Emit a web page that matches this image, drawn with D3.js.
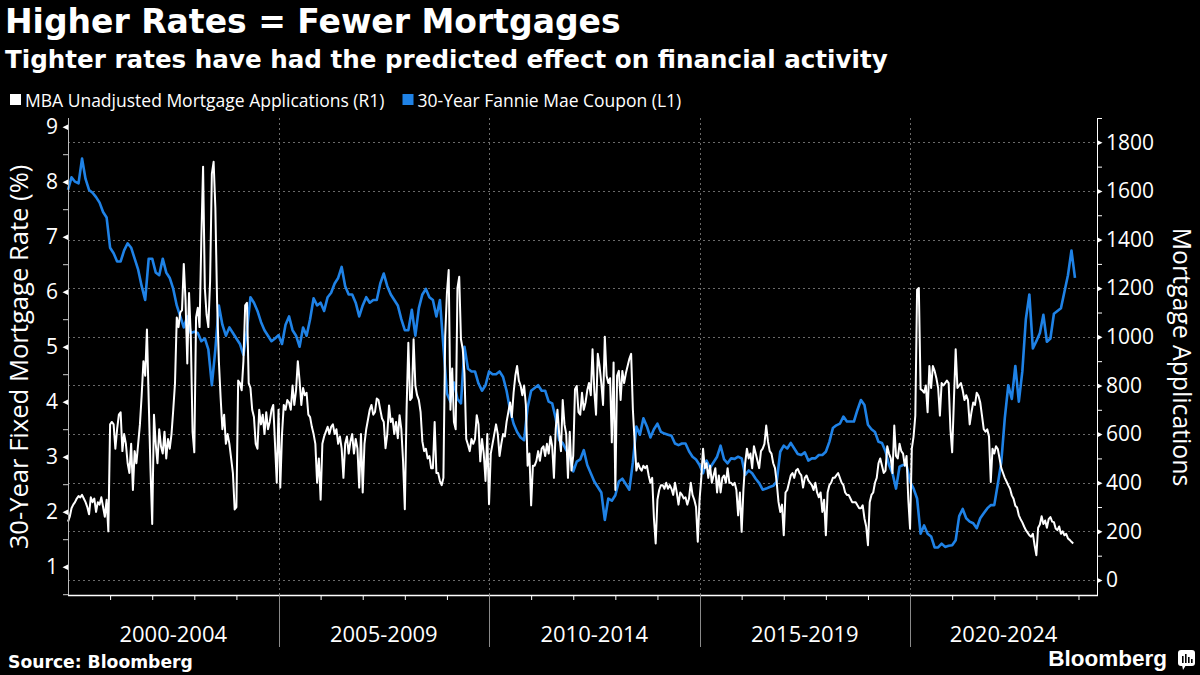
<!DOCTYPE html>
<html><head><meta charset="utf-8">
<script src="https://cdn.jsdelivr.net/npm/d3@7"></script>
<style>
html,body{margin:0;padding:0;background:#000;}
svg{display:block;}
</style></head><body>
<svg id="chart" width="1200" height="675"></svg>
<script>
// ---------------- DATA ----------------
const years = [2000,2001,2002,2003,2004,2005,2006,2007,2008,2009,2010,2011,2012,2013,2014,2015,2016,2017,2018,2019,2020,2021,2022,2023];

// MBA Unadjusted Mortgage Applications (right axis), ~2 readings per month
const apps2000 = [240,260,295,310,320,335,345,340,350,335,320,300,270,340,320,335,280,320,310,340,300,260,330,200];
const apps2001 = [640,650,640,540,620,680,690,530,600,560,480,440,560,370,530,480,560,640,760,900,840,1030,740,460];
const apps2002 = [230,680,560,480,620,550,520,610,500,580,540,600,700,810,1080,1040,1100,1110,1300,1150,890,1180,1000,610];
const apps2003 = [525,1080,1120,1040,1400,1700,1200,1090,1040,1230,1670,1720,1530,1140,900,750,620,680,560,600,560,500,440,290];
const apps2004 = [300,820,810,780,900,1130,1140,810,790,700,670,560,540,700,640,680,600,690,620,650,700,720,560,400];
const apps2005 = [700,380,600,720,700,740,730,700,800,720,780,900,820,720,790,760,770,680,670,630,600,560,400,500];
const apps2006 = [330,560,590,610,630,600,630,640,600,620,560,590,540,420,560,590,520,570,600,520,580,540,380,600];
const apps2007 = [360,560,620,660,700,720,680,691,746,740,700,664,650,542,600,718,650,664,600,650,583,678,620,488];
const apps2008 = [291,700,976,740,750,990,800,760,740,690,570,530,540,500,510,460,460,650,440,440,407,390,420,1000];
const apps2009 = [1180,1275,700,870,650,620,1200,1247,990,950,850,580,556,530,580,560,580,678,640,488,580,520,407,600];
const apps2010 = [312,520,560,600,640,600,510,560,600,590,650,690,730,670,770,840,880,820,800,760,800,720,470,520];
const apps2011 = [307,470,470,490,530,490,540,550,510,560,520,590,550,420,620,700,600,530,740,640,600,420,610,450];
const apps2012 = [510,785,798,690,680,770,700,730,780,810,760,949,780,680,930,880,810,720,1000,840,810,830,566,894];
const apps2013 = [370,840,860,740,860,810,850,880,910,930,700,570,450,480,460,450,470,460,470,430,400,420,253,150];
const apps2014 = [330,370,390,390,375,400,375,390,375,350,400,360,310,360,350,335,340,310,335,400,350,330,300,157];
const apps2015 = [330,420,540,460,480,420,470,400,430,460,360,430,360,420,430,400,460,400,400,390,400,370,266,360];
const apps2016 = [198,370,480,540,500,520,460,550,520,490,460,530,540,560,635,570,530,520,480,460,400,321,280,310];
const apps2017 = [184,360,370,400,430,440,420,450,457,440,430,380,420,430,410,400,390,370,400,360,340,360,280,330];
const apps2018 = [184,360,390,400,420,420,430,440,420,400,390,360,350,350,335,320,320,320,307,295,295,307,253,220];
const apps2019 = [143,320,350,360,400,420,480,500,470,440,450,550,520,500,440,635,510,500,560,530,520,470,510,330];
const apps2020 = [211,540,590,676,1194,1201,785,780,770,800,690,880,790,880,860,830,790,676,810,800,810,820,810,620];
const apps2021 = [525,740,949,790,800,810,780,740,760,740,640,690,730,720,770,758,730,676,620,610,620,590,403,540];
const apps2022 = [520,550,539,500,460,440,420,405,389,375,348,334,305,298,266,250,237,220,205,195,184,178,190,143];
const apps2023 = [102,215,228,262,230,245,215,250,259,240,238,212,205,220,190,200,184,190,171,165,157,150];

// 30-Year Fannie Mae Coupon (left axis), monthly readings
const rate2000 = [7.85,8.08,8.0,7.97,8.42,8.05,7.85,7.8,7.72,7.62,7.45,7.35];
const rate2001 = [6.8,6.7,6.55,6.55,6.75,6.88,6.8,6.6,6.4,6.1,5.85,6.6];
const rate2002 = [6.6,6.35,6.3,6.6,6.35,6.25,6.05,5.75,5.55,5.35,5.55,5.25];
const rate2003 = [5.27,5.25,5.1,5.15,4.95,4.3,4.95,5.75,5.4,5.2,5.35,5.25];
const rate2004 = [5.15,5.05,4.85,5.3,5.9,5.8,5.65,5.45,5.3,5.2,5.1,5.15];
const rate2005 = [5.21,5.05,5.4,5.55,5.3,5.2,5.0,5.35,5.2,5.5,5.88,5.75];
const rate2006 = [5.8,5.65,5.9,5.98,6.15,6.25,6.45,6.1,5.95,5.95,5.8,5.55];
const rate2007 = [5.75,5.9,5.8,5.85,5.85,6.15,6.33,6.1,5.95,5.85,5.75,5.5];
const rate2008 = [5.3,5.3,5.67,5.2,5.7,5.95,6.05,5.9,5.85,5.55,5.85,5.0];
const rate2009 = [4.15,4.0,4.35,4.05,3.97,5.0,4.6,4.55,4.55,4.33,4.2,4.3];
const rate2010 = [4.55,4.5,4.5,4.55,4.45,4.2,3.85,3.6,3.45,3.35,3.3,3.9];
const rate2011 = [4.2,4.25,4.3,4.2,4.2,4.0,3.97,3.7,3.3,3.25,3.12,3.03];
const rate2012 = [2.73,2.91,2.95,3.12,2.85,2.7,2.55,2.45,2.35,1.85,2.24,2.2];
const rate2013 = [2.3,2.55,2.6,2.5,2.4,2.9,3.55,3.4,3.7,3.55,3.35,3.5];
const rate2014 = [3.6,3.45,3.42,3.4,3.38,3.24,3.21,3.24,3.24,3.1,3.0,2.95];
const rate2015 = [2.85,2.7,2.93,2.8,2.9,3.0,3.2,2.95,2.88,2.97,2.96,3.0];
const rate2016 = [2.97,2.67,2.75,2.7,2.6,2.52,2.4,2.42,2.45,2.47,2.55,3.09];
const rate2017 = [3.2,3.15,3.25,3.15,3.05,3.03,3.08,2.93,2.97,2.97,3.03,3.03];
const rate2018 = [3.09,3.27,3.52,3.57,3.6,3.73,3.64,3.64,3.64,3.85,4.03,3.94];
const rate2019 = [3.58,3.5,3.45,3.27,3.25,3.1,2.85,2.7,2.42,2.82,2.85,2.85];
const rate2020 = [2.55,2.42,2.24,1.6,1.75,1.6,1.55,1.35,1.35,1.42,1.36,1.38];
const rate2021 = [1.39,1.48,1.92,2.05,1.88,1.82,1.79,1.7,1.88,1.97,2.06,2.12];
const rate2022 = [2.12,2.5,2.9,3.7,4.3,4.05,4.65,4.0,4.55,5.5,5.95,4.97];
const rate2023 = [5.1,5.25,5.58,5.09,5.15,5.6,5.65,5.7,6.0,6.3,6.75,6.25];

const leftTicks = [1,2,3,4,5,6,7,8,9];
const leftMinor = [0.5,1.5,2.5,3.5,4.5,5.5,6.5,7.5,8.5];
const rightTicks = [0,200,400,600,800,1000,1200,1400,1600,1800];
const rightMinor = [100,300,500,700,900,1100,1300,1500,1700,1900];
const periodStarts = [2000,2005,2010,2015,2020];
const periodLabels = ["2000-2004","2005-2009","2010-2014","2015-2019","2020-2024"];

const appsByYear = [apps2000,apps2001,apps2002,apps2003,apps2004,apps2005,apps2006,apps2007,apps2008,apps2009,apps2010,apps2011,apps2012,apps2013,apps2014,apps2015,apps2016,apps2017,apps2018,apps2019,apps2020,apps2021,apps2022,apps2023];
const rateByYear = [rate2000,rate2001,rate2002,rate2003,rate2004,rate2005,rate2006,rate2007,rate2008,rate2009,rate2010,rate2011,rate2012,rate2013,rate2014,rate2015,rate2016,rate2017,rate2018,rate2019,rate2020,rate2021,rate2022,rate2023];

const appsSeries = appsByYear.flatMap((arr,k)=>arr.map((v,i)=>({t: years[k] + i/24, v})));
const rateSeries = rateByYear.flatMap((arr,k)=>arr.map((v,i)=>({t: years[k] + i/12, v})));

// ---------------- LAYOUT ----------------
const W = 1200, H = 675;
const plot = {left: 68, right: 1097, top: 118, bottom: 595};
const BLUE = "#1f82e6";
const TXT = "#ffffff";
const FONT = "'Open Sans', 'Noto Sans', sans-serif";
const BOLD = "'DejaVu Sans', sans-serif";

const svg = d3.select("#chart");
svg.append("rect").attr("width",W).attr("height",H).attr("fill","#000");

const x = d3.scaleLinear().domain([2000, 2024.44]).range([plot.left, plot.right]);
const yL = d3.scaleLinear().domain([0.4855, 9.158]).range([plot.bottom, plot.top]);
const yR = d3.scaleLinear().domain([-61.7, 1900]).range([plot.bottom, plot.top]);

// Title
svg.append("text").attr("x",5).attr("y",33).attr("fill",TXT)
  .attr("font-family",BOLD).attr("font-weight","bold").attr("font-size",33)
  .text("Higher Rates = Fewer Mortgages");
svg.append("text").attr("x",5).attr("y",67.5).attr("fill",TXT)
  .attr("font-family",BOLD).attr("font-weight","bold").attr("font-size",24.6)
  .text("Tighter rates have had the predicted effect on financial activity");

// Legend
const leg = svg.append("g").attr("font-family",FONT).attr("font-size",17.5).attr("fill",TXT);
leg.append("rect").attr("x",10).attr("y",94).attr("width",11).attr("height",11).attr("fill","#fff");
const t1 = leg.append("text").attr("x",25).attr("y",106.5).text("MBA Unadjusted Mortgage Applications (R1)");
const l1 = t1.node().getComputedTextLength();
const x2 = 25 + l1 + 18;
leg.append("rect").attr("x",x2).attr("y",94).attr("width",11).attr("height",11).attr("fill",BLUE);
leg.append("text").attr("x",x2+15).attr("y",106.5).text("30-Year Fannie Mae Coupon (L1)");

// Grid
const grid = svg.append("g").attr("stroke","#6a6a6a").attr("stroke-width",1).attr("stroke-dasharray","2,3");
grid.selectAll("line.h").data(rightTicks).join("line").attr("class","h")
  .attr("x1",plot.left).attr("x2",plot.right)
  .attr("y1",d=>Math.round(yR(d))+0.5).attr("y2",d=>Math.round(yR(d))+0.5);
grid.selectAll("line.v").data(periodStarts.slice(1)).join("line").attr("class","v")
  .attr("x1",d=>Math.round(x(d))+0.5).attr("x2",d=>Math.round(x(d))+0.5)
  .attr("y1",plot.top).attr("y2",plot.bottom);

// Lines
const lineApps = d3.line().x(d=>x(d.t)).y(d=>yR(d.v));
const lineRate = d3.line().x(d=>x(d.t)).y(d=>yL(d.v));
svg.append("path").datum(rateSeries).attr("d",lineRate).attr("fill","none")
  .attr("stroke",BLUE).attr("stroke-width",2.6).attr("stroke-linejoin","round");
svg.append("path").datum(appsSeries).attr("d",lineApps).attr("fill","none")
  .attr("stroke","#fff").attr("stroke-width",2).attr("stroke-linejoin","round");

// Left axis
const gL = svg.append("g").attr("transform",`translate(${plot.left},0)`);
gL.call(d3.axisLeft(yL).tickValues(leftTicks).tickSize(0).tickPadding(10).tickFormat(d3.format("d")));
gL.select(".domain").remove();
gL.selectAll(".tick text").attr("fill",TXT).attr("font-family",FONT).attr("font-size",21);
gL.selectAll(".tick").append("path").attr("d","M0,-2.8L-5.5,0L0,2.8Z").attr("fill","#fff");
const gLm = svg.append("g").attr("transform",`translate(${plot.left},0)`);
gLm.call(d3.axisLeft(yL).tickValues(leftMinor).tickSize(5).tickFormat(""));
gLm.select(".domain").remove();
gLm.selectAll(".tick line").attr("stroke","#ccc");
svg.append("line").attr("x1",plot.left+0.5).attr("x2",plot.left+0.5)
  .attr("y1",plot.top).attr("y2",plot.bottom).attr("stroke","#bbb").attr("stroke-width",1);

// Right axis
const gR = svg.append("g").attr("transform",`translate(${plot.right},0)`);
gR.call(d3.axisRight(yR).tickValues(rightTicks).tickSize(0).tickPadding(9).tickFormat(d3.format("d")));
gR.select(".domain").remove();
gR.selectAll(".tick text").attr("fill",TXT).attr("font-family",FONT).attr("font-size",21);
gR.selectAll(".tick").append("path").attr("d","M0,-2.8L5.5,0L0,2.8Z").attr("fill","#fff");
const gRm = svg.append("g").attr("transform",`translate(${plot.right},0)`);
gRm.call(d3.axisRight(yR).tickValues(rightMinor).tickSize(5).tickFormat(""));
gRm.select(".domain").remove();
gRm.selectAll(".tick line").attr("stroke","#fff");
svg.append("line").attr("x1",plot.right+0.5).attr("x2",plot.right+0.5)
  .attr("y1",plot.top).attr("y2",plot.bottom).attr("stroke","#fff").attr("stroke-width",1);

// Bottom axis
const yearTicks = d3.range(2001, 2025).filter(y=>y%5!==0);
const gB = svg.append("g").attr("transform",`translate(0,${plot.bottom})`);
gB.call(d3.axisBottom(x).tickValues(yearTicks).tickSize(5).tickFormat(""));
gB.select(".domain").remove();
gB.selectAll(".tick line").attr("stroke","#fff");
svg.append("line").attr("x1",plot.left).attr("x2",plot.right+1)
  .attr("y1",plot.bottom+0.5).attr("y2",plot.bottom+0.5).attr("stroke","#fff").attr("stroke-width",1.5);
svg.selectAll("line.sep").data(periodStarts.slice(1)).join("line").attr("class","sep")
  .attr("x1",d=>Math.round(x(d))+0.5).attr("x2",d=>Math.round(x(d))+0.5)
  .attr("y1",plot.bottom).attr("y2",647).attr("stroke","#8a8a8a").attr("stroke-width",1);
svg.selectAll("text.period").data(periodStarts).join("text").attr("class","period")
  .attr("x",(d,i)=>(x(d)+Math.min(x(d+5),plot.right))/2).attr("y",641.5)
  .attr("text-anchor","middle").attr("fill",TXT).attr("font-family",FONT).attr("font-size",22)
  .text((d,i)=>periodLabels[i]);

// Axis titles
svg.append("text").attr("transform",`translate(28,357) rotate(-90)`)
  .attr("text-anchor","middle").attr("fill",TXT).attr("font-family",FONT).attr("font-size",25.6)
  .text("30-Year Fixed Mortgage Rate (%)");
svg.append("text").attr("transform",`translate(1172.5,357) rotate(90)`)
  .attr("text-anchor","middle").attr("fill",TXT).attr("font-family",FONT).attr("font-size",24.8)
  .text("Mortgage Applications");

// Footer
svg.append("text").attr("x",8).attr("y",667.5).attr("fill",TXT)
  .attr("font-family",BOLD).attr("font-weight","bold").attr("font-size",17.2)
  .text("Source: Bloomberg");
svg.append("text").attr("x",1167).attr("y",666).attr("text-anchor","end").attr("fill",TXT)
  .attr("font-family","'Liberation Sans', Arial, sans-serif").attr("font-weight","bold").attr("font-size",22.5)
  .text("Bloomberg");
const icon = svg.append("g").attr("transform","translate(1178,650)");
icon.append("rect").attr("width",17).attr("height",16).attr("rx",3).attr("fill","#fff");
icon.append("path").attr("d","M4,15 L8,15 L5,20 Z").attr("fill","#fff");
icon.selectAll("rect.bar").data([[4,6],[7,4],[10,7],[13,9]]).join("rect").attr("class","bar")
  .attr("x",d=>d[0]).attr("y",d=>d[1]).attr("width",1.6).attr("height",d=>13-d[1]).attr("fill","#000");
</script>
</body></html>
